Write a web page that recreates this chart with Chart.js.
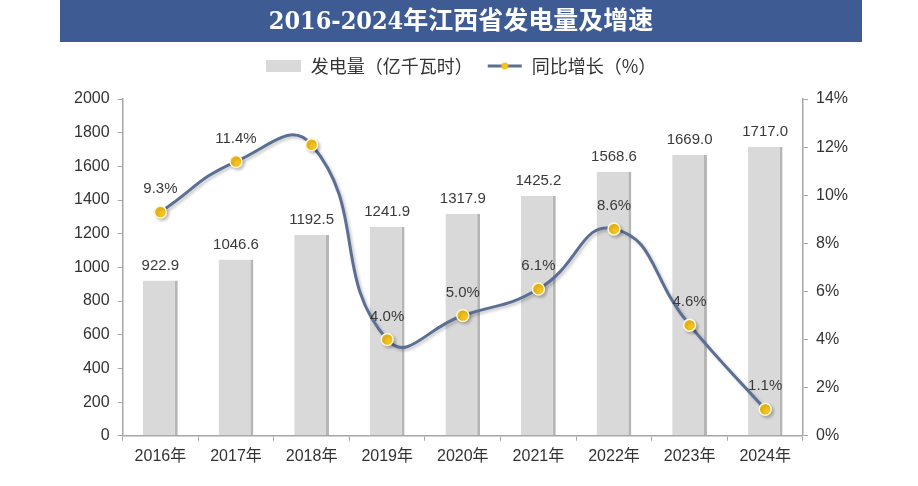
<!DOCTYPE html>
<html><head><meta charset="utf-8">
<script src="https://cdn.jsdelivr.net/npm/chart.js@4/dist/chart.umd.min.js"></script>
<style>html,body{margin:0;padding:0;background:#fff;}#wrap{width:918px;height:486px;}</style>
</head><body><div id="wrap"><canvas id="c" width="918" height="486"></canvas></div>
<script>
const categories = ['2016年','2017年','2018年','2019年','2020年','2021年','2022年','2023年','2024年'];
const generation = [922.9, 1046.6, 1192.5, 1241.9, 1317.9, 1425.2, 1568.6, 1669.0, 1717.0];
const growth = [9.3, 11.4, 12.1, 4.0, 5.0, 6.1, 8.6, 4.6, 1.1];
const growthLabelHidden = [false, false, true, false, false, false, false, false, false];
const titleText = '2016-2024年江西省发电量及增速';
const barName = '发电量（亿千瓦时）';
const lineName = '同比增长（%）';

const FONT = '"Liberation Sans", Arial, "Noto Sans CJK SC", sans-serif';

// legend icons
const lineIcon = document.createElement('canvas');
lineIcon.width = 38; lineIcon.height = 10;
(function(){
  const g = lineIcon.getContext('2d');
  g.strokeStyle = '#5b6e93'; g.lineWidth = 3;
  g.beginPath(); g.moveTo(2,5); g.lineTo(36,5); g.stroke();
  g.fillStyle = '#f4c21c';
  g.beginPath(); g.arc(19,5,3.5,0,Math.PI*2); g.fill();
})();
const barIcon = document.createElement('canvas');
barIcon.width = 35; barIcon.height = 12;
(function(){
  const g = barIcon.getContext('2d');
  g.fillStyle = '#d9d9d9'; g.fillRect(0,0,35,12);
})();

const bgPlugin = {
  id: 'bg',
  beforeInit(chart) {
    const lg = chart.legend;
    if (lg) {
      const orig = lg.fit;
      lg.fit = function() { orig.call(this); this.height += 14; };
    }
  },
  beforeDraw(chart) {
    const ctx = chart.ctx;
    ctx.save();
    ctx.fillStyle = '#fff';
    ctx.fillRect(0,0,chart.width,chart.height);
    ctx.fillStyle = '#3e5b94';
    ctx.fillRect(60,0,802,42);
    ctx.restore();
  },
  beforeDatasetDraw(chart, args) {
    if (args.index === 0) {
      const ctx = chart.ctx;
      ctx.save();
      ctx.shadowColor = 'rgba(0,0,0,0.22)';
      ctx.shadowBlur = 3;
      ctx.shadowOffsetX = 2;
      ctx.shadowOffsetY = 2;
    }
  },
  afterDatasetDraw(chart, args) {
    if (args.index === 0) chart.ctx.restore();
  }
};

const labelPlugin = {
  id: 'labels',
  afterDatasetsDraw(chart) {
    const ctx = chart.ctx;
    ctx.save();
    ctx.font = '15px ' + FONT;
    ctx.fillStyle = '#3a3a3a';
    ctx.textAlign = 'center';
    ctx.textBaseline = 'middle';
    chart.getDatasetMeta(1).data.forEach((el, i) => {
      ctx.fillText(generation[i].toFixed(1), el.x, el.y - 15);
    });
    chart.getDatasetMeta(0).data.forEach((el, i) => {
      if (growthLabelHidden[i]) return;
      ctx.fillText(growth[i].toFixed(1) + '%', el.x, el.y - 23);
    });
    ctx.restore();
  }
};

new Chart(document.getElementById('c'), {
  data: {
    labels: categories,
    datasets: [
      {
        type: 'line', label: lineName, data: growth, yAxisID: 'y1', order: 0,
        borderColor: '#5b6e93', borderWidth: 3, tension: 0.5,
        pointBackgroundColor: '#f4c21c', pointBorderColor: '#fff8d8', pointBorderWidth: 1.5,
        pointRadius: 6, pointStyle: 'circle'
      },
      {
        type: 'bar', label: barName, data: generation, yAxisID: 'y', order: 1,
        backgroundColor: '#d9d9d9', borderColor: '#b5b5b5',
        borderWidth: {left:0, top:0, bottom:0, right:3}, borderSkipped: false,
        barPercentage: 0.46, categoryPercentage: 1.0
      }
    ]
  },
  options: {
    responsive: false, animation: false,
    layout: { padding: { left: 66, right: 62, top: 0, bottom: 14 } },
    plugins: {
      title: {
        display: true, text: titleText, color: '#ffffff',
        font: { family: '"DejaVu Serif Condensed", "DejaVu Serif", "Noto Sans CJK SC", serif', size: 25, weight: 'bold' },
        padding: { top: 7, bottom: 6 }
      },
      legend: {
        display: true, position: 'top',
        labels: {
          color: '#333', font: { family: '"Noto Sans CJK SC", sans-serif', size: 18 },
          usePointStyle: true, pointStyleWidth: 36, padding: 14,
          generateLabels(chart) {
            return [
              { text: barName, pointStyle: barIcon, datasetIndex: 1, fontColor: '#333', lineWidth: 0 },
              { text: lineName, pointStyle: lineIcon, datasetIndex: 0, fontColor: '#333', lineWidth: 0 }
            ];
          }
        }
      },
      tooltip: { enabled: false }
    },
    scales: {
      x: {
        offset: true,
        grid: { display: true, drawOnChartArea: false, drawTicks: true, tickLength: 5, color: '#a6a6a6', offset: true },
        border: { display: true, color: '#a6a6a6', width: 1.5 },
        ticks: { color: '#333', font: { family: FONT, size: 16 }, padding: 6 }
      },
      y: {
        position: 'left', min: 0, max: 2000,
        ticks: { stepSize: 200, color: '#333', font: { family: FONT, size: 16 }, padding: 8, callback: v => String(v) },
        grid: { drawOnChartArea: false, tickLength: 5, color: '#a6a6a6' },
        border: { display: true, color: '#a6a6a6', width: 1.5 }
      },
      y1: {
        position: 'right', min: 0, max: 14,
        ticks: { stepSize: 2, color: '#333', font: { family: FONT, size: 16 }, padding: 8, callback: v => v + '%' },
        grid: { drawOnChartArea: false, tickLength: 5, color: '#a6a6a6' },
        border: { display: true, color: '#a6a6a6', width: 1.5 }
      }
    }
  },
  plugins: [bgPlugin, labelPlugin]
});
</script>
</body></html>
